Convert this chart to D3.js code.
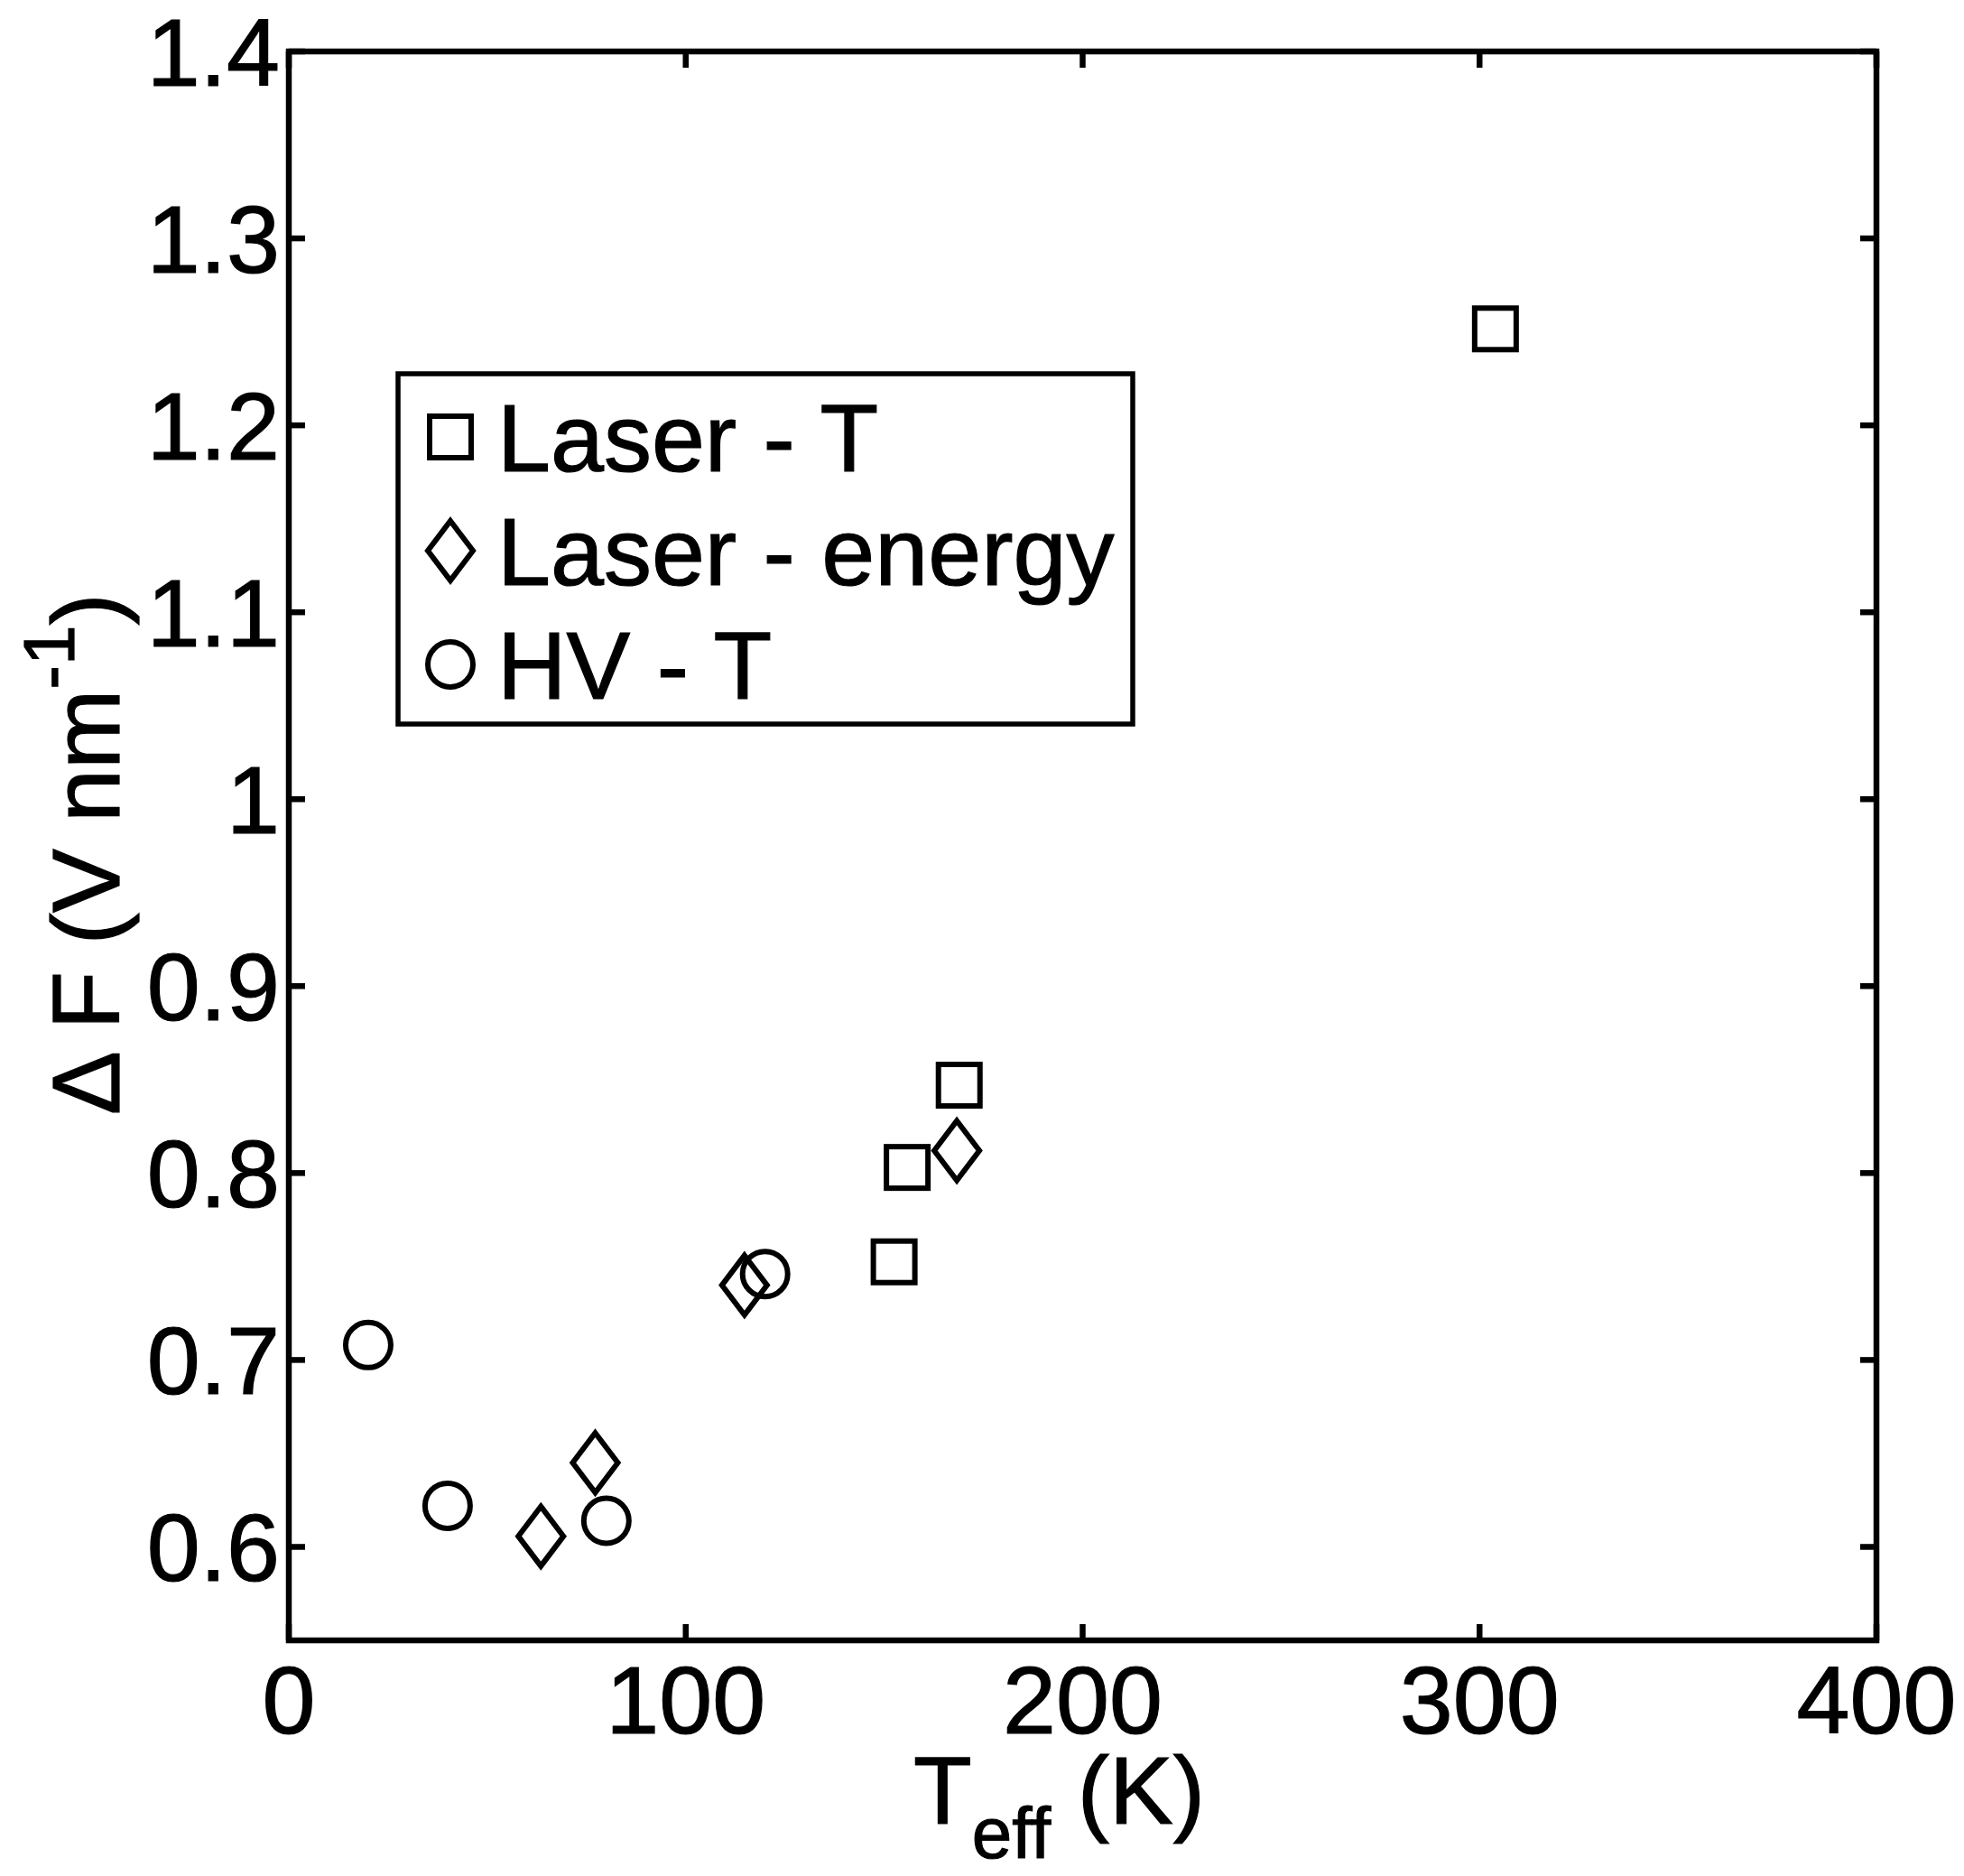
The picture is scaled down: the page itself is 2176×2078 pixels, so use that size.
<!DOCTYPE html>
<html>
<head>
<meta charset="utf-8">
<script src="https://cdn.jsdelivr.net/npm/d3@7"></script>
<style>
  html, body { margin: 0; padding: 0; background: #fff; }
  svg { display: block; }
  text { font-family: "Liberation Sans", Arial, Helvetica, sans-serif; fill: #000; stroke: #000; stroke-width: 1.2px; }
</style>
</head>
<body>
<svg id="chart" width="2176" height="2078"></svg>
<script>
// ---- data ----
const seriesNames = ["Laser - T", "Laser - energy", "HV - T"];
const laserT_x = [152.5, 155.8, 168.9, 304];
const laserT_y = [0.7525, 0.803, 0.847, 1.2516];
const laserE_x = [63.5, 77.2, 114.8, 168.3];
const laserE_y = [0.6057, 0.645, 0.740, 0.812];
const hvT_x = [20, 40, 80, 120];
const hvT_y = [0.708, 0.622, 0.614, 0.746];
const xTicks = [0, 100, 200, 300, 400];
const yTicks = [0.6, 0.7, 0.8, 0.9, 1.0, 1.1, 1.2, 1.3, 1.4];
const yTickLabels = ["0.6", "0.7", "0.8", "0.9", "1", "1.1", "1.2", "1.3", "1.4"];

// ---- layout ----
const L = 320, R = 2079, T = 57, B = 1817;
const FS = 106;
const svg = d3.select("#chart");
const x = d3.scaleLinear().domain([0, 400]).range([L, R]);
const y = d3.scaleLinear().domain([0.55, 1.4]).range([B, T]);

const lw = 6.5, tickLen = 18;
const g = svg.append("g");

// ticks (inward on all four sides)
const tg = g.append("g").attr("stroke", "#000").attr("stroke-width", lw);
xTicks.forEach(v => {
  tg.append("line").attr("x1", x(v)).attr("x2", x(v)).attr("y1", B).attr("y2", B - tickLen);
  tg.append("line").attr("x1", x(v)).attr("x2", x(v)).attr("y1", T).attr("y2", T + tickLen);
});
yTicks.forEach(v => {
  tg.append("line").attr("y1", y(v)).attr("y2", y(v)).attr("x1", L).attr("x2", L + tickLen);
  tg.append("line").attr("y1", y(v)).attr("y2", y(v)).attr("x1", R).attr("x2", R - tickLen);
});

// axis box
g.append("rect").attr("x", L).attr("y", T).attr("width", R - L).attr("height", B - T)
  .attr("fill", "none").attr("stroke", "#000").attr("stroke-width", lw);

// tick labels
xTicks.forEach(v => {
  g.append("text").attr("x", x(v)).attr("y", 1920).attr("text-anchor", "middle")
    .attr("font-size", FS).text(String(v));
});
yTicks.forEach((v, i) => {
  g.append("text").attr("x", 310).attr("y", y(v) + 38).attr("text-anchor", "end")
    .attr("font-size", FS).text(yTickLabels[i]);
});

// axis labels
const xl = g.append("text").attr("x", 1012).attr("y", 2020).attr("font-size", FS);
xl.append("tspan").text("T");
xl.append("tspan").attr("font-size", 80).attr("dy", 38).text("eff");
xl.append("tspan").attr("dy", -38).text(" (K)");

const yl = g.append("text").attr("transform", "translate(132," + 1235 + ") rotate(-90)")
  .attr("font-size", FS);
yl.append("tspan").text("\u0394 F (V nm");
yl.append("tspan").attr("font-size", 80).attr("dy", -50).text("-1");
yl.append("tspan").attr("dy", 50).text(")");

// markers
const mk = 6;
function drawMarker(sel, type, cx, cy) {
  if (type === "square") {
    sel.append("rect").attr("x", cx - 23).attr("y", cy - 23).attr("width", 46).attr("height", 46)
      .attr("fill", "none").attr("stroke", "#000").attr("stroke-width", mk);
  } else if (type === "diamond") {
    const p = d3.path();
    p.moveTo(cx, cy - 33); p.lineTo(cx + 25, cy); p.lineTo(cx, cy + 33); p.lineTo(cx - 25, cy); p.closePath();
    sel.append("path").attr("d", p.toString()).attr("fill", "none").attr("stroke", "#000")
      .attr("stroke-width", mk).attr("stroke-linejoin", "miter");
  } else {
    sel.append("circle").attr("cx", cx).attr("cy", cy).attr("r", 25)
      .attr("fill", "none").attr("stroke", "#000").attr("stroke-width", mk);
  }
}
const series = [
  { type: "square", xs: laserT_x, ys: laserT_y },
  { type: "diamond", xs: laserE_x, ys: laserE_y },
  { type: "circle", xs: hvT_x, ys: hvT_y }
];
const mg = g.append("g");
series.forEach(s => s.xs.forEach((v, i) => drawMarker(mg, s.type, x(v), y(s.ys[i]))));

// legend
const lg = g.append("g");
lg.append("rect").attr("x", 441).attr("y", 414).attr("width", 1255 - 441).attr("height", 802 - 414)
  .attr("fill", "#fff").attr("stroke", "#000").attr("stroke-width", 5.5);
const rowY = [484, 610, 736];
series.forEach((s, i) => {
  drawMarker(lg, s.type, 499, rowY[i]);
  lg.append("text").attr("x", 551).attr("y", rowY[i] + 38).attr("font-size", FS).text(seriesNames[i]);
});
</script>
</body>
</html>
